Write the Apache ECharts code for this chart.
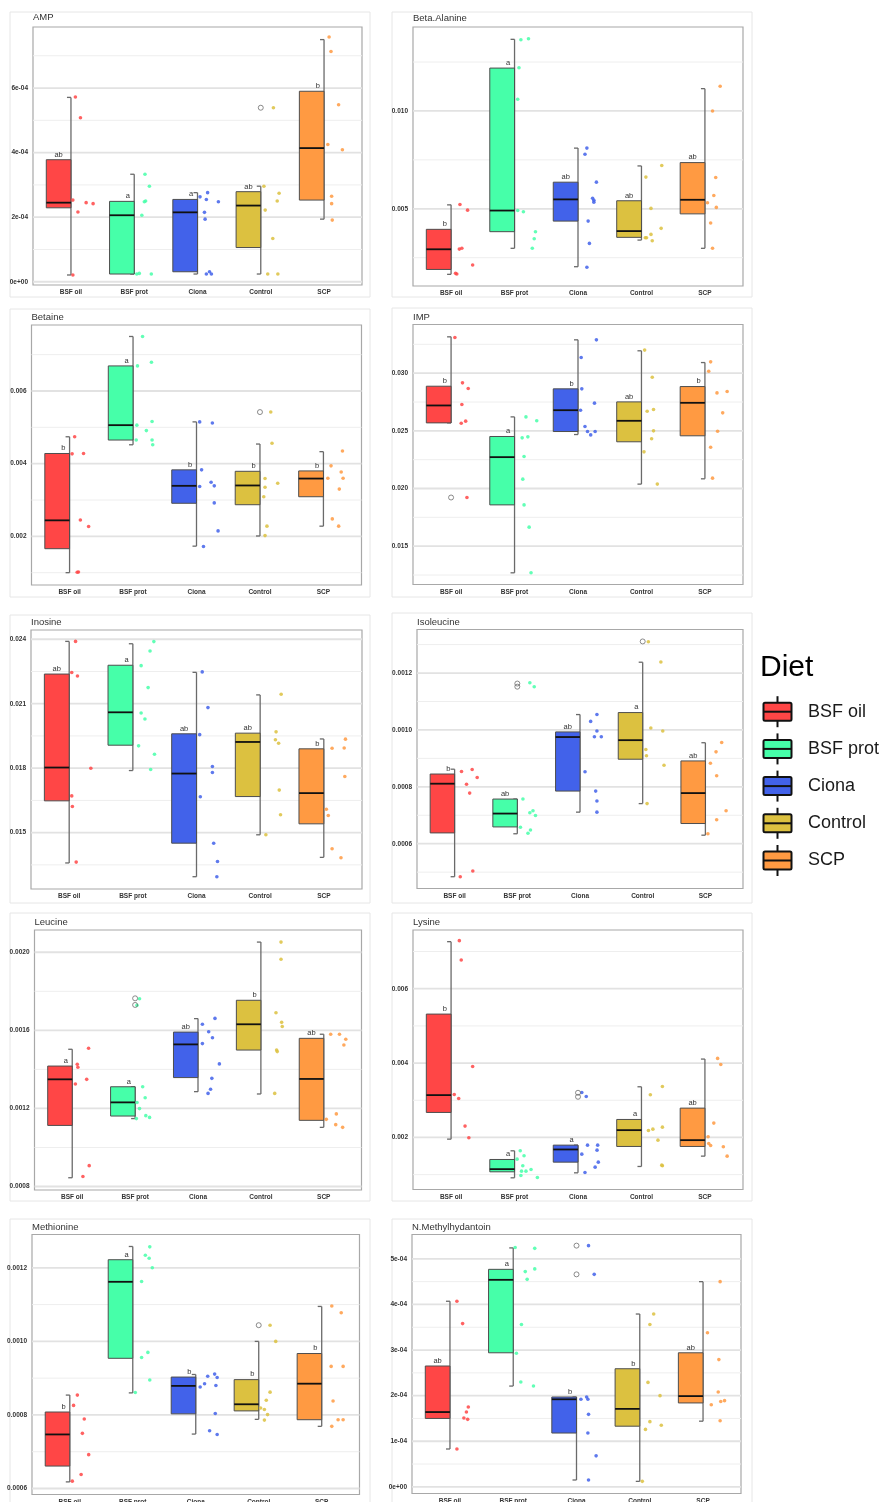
<!DOCTYPE html>
<html>
<head>
<meta charset="utf-8">
<script src="https://cdn.jsdelivr.net/npm/echarts@6/dist/echarts.min.js"></script>
<style>
  html, body { margin: 0; padding: 0; background: #fff; }
  #chart { width: 886px; height: 1502px; }
</style>
</head>
<body>
<div id="chart"></div>
<script>
// ---- Groups ----
const diets = ['BSF oil', 'BSF prot', 'Ciona', 'Control', 'SCP'];
const dietColors = ['#ff4646', '#46ffa9', '#4262ea', '#dcc140', '#ff9a42'];
const panelTitles = ['AMP', 'Beta.Alanine', 'Betaine', 'IMP', 'Inosine',
  'Isoleucine', 'Leucine', 'Lysine', 'Methionine', 'N.Methylhydantoin'];

// Box statistics per diet: [lower whisker, Q1, median, Q3, upper whisker]
// Raw observations per diet, their horizontal jitter (in category units), outliers and group letters.

// AMP
const ampStats = [
  [0.21e-4, 2.29e-4, 2.45e-4, 3.78e-4, 5.71e-4],
  [0.24e-4, 0.24e-4, 2.06e-4, 2.49e-4, 3.33e-4],
  [0.24e-4, 0.31e-4, 2.15e-4, 2.55e-4, 2.76e-4],
  [0.24e-4, 1.06e-4, 2.36e-4, 2.79e-4, 2.96e-4],
  [1.94e-4, 2.53e-4, 4.14e-4, 5.90e-4, 7.50e-4]];
const ampPoints = [
  [5.72e-4, 5.08e-4, 2.53e-4, 2.45e-4, 2.42e-4, 2.16e-4, 0.21e-4],
  [3.33e-4, 2.96e-4, 2.50e-4, 2.48e-4, 2.06e-4, 0.24e-4, 0.26e-4, 0.24e-4],
  [2.63e-4, 2.76e-4, 2.55e-4, 2.48e-4, 2.15e-4, 1.94e-4, 0.24e-4, 0.31e-4, 0.24e-4],
  [5.39e-4, 2.96e-4, 2.74e-4, 2.50e-4, 2.22e-4, 1.34e-4, 0.24e-4, 0.24e-4],
  [7.58e-4, 7.13e-4, 5.48e-4, 4.25e-4, 4.09e-4, 2.65e-4, 2.42e-4, 1.91e-4]];
const ampJitter = [
  [.07, .15, .03, .24, .35, .11, .03],
  [.17, .24, .18, .16, .12, .04, .08, .27],
  [.04, .16, .14, .33, .11, .12, .14, .19, .22],
  [.20, .05, .29, .26, .07, .19, .11, .27],
  [.08, .11, .23, .06, .29, .12, .12, .13]];
const ampOutliers = [[], [], [], [5.39e-4], []];
const ampLetters = ['ab', 'a', 'a', 'ab', 'b'];
const ampTicks = [0, 2e-4, 4e-4, 6e-4];
const ampTickLabels = ['0e+00', '2e-04', '4e-04', '6e-04'];
const ampMinor = [1e-4, 3e-4, 5e-4, 7e-4];
const ampRange = [-0.10e-4, 7.89e-4];

// Beta.Alanine
const betaStats = [
  [0.00165, 0.00190, 0.00293, 0.00395, 0.00520],
  [0.00298, 0.00383, 0.00491, 0.01219, 0.01366],
  [0.00204, 0.00437, 0.00548, 0.00636, 0.00810],
  [0.00340, 0.00354, 0.00386, 0.00541, 0.00719],
  [0.00298, 0.00474, 0.00546, 0.00736, 0.01114]];
const betaPoints = [
  [0.00522, 0.00493, 0.00294, 0.00298, 0.00213, 0.00170, 0.00167],
  [0.01364, 0.01369, 0.01221, 0.01060, 0.00491, 0.00485, 0.00383, 0.00347, 0.00298],
  [0.00810, 0.00779, 0.00636, 0.00554, 0.00544, 0.00534, 0.00437, 0.00323, 0.00201],
  [0.00721, 0.00662, 0.00502, 0.00400, 0.00369, 0.00352, 0.00352, 0.00337],
  [0.01126, 0.01000, 0.00660, 0.00568, 0.00531, 0.00507, 0.00427, 0.00298]];
const betaJitter = [
  [.14, .26, .13, .17, .34, .07, .09],
  [.10, .22, .07, .05, .05, .14, .33, .31, .28],
  [.14, .11, .29, .23, .25, .25, .16, .18, .14],
  [.32, .07, .15, .31, .15, .06, .08, .17],
  [.24, .12, .17, .14, .04, .18, .09, .12]];
const betaOutliers = [[], [], [], [], []];
const betaLetters = ['b', 'a', 'ab', 'ab', 'ab'];
const betaTicks = [0.005, 0.010];
const betaTickLabels = ['0.005', '0.010'];
const betaMinor = [0.0025, 0.0075, 0.0125];
const betaRange = [0.001054, 0.01429];

// Betaine
const betaineStats = [
  [0.00100, 0.00166, 0.00244, 0.00428, 0.00474],
  [0.00452, 0.00465, 0.00506, 0.00669, 0.00750],
  [0.00173, 0.00291, 0.00339, 0.00383, 0.00515],
  [0.00201, 0.00287, 0.00340, 0.00379, 0.00454],
  [0.00228, 0.00309, 0.00359, 0.00380, 0.00433]];
const betainePoints = [
  [0.00474, 0.00427, 0.00428, 0.00245, 0.00227, 0.00101, 0.00102],
  [0.00750, 0.00679, 0.00669, 0.00516, 0.00506, 0.00491, 0.00465, 0.00465, 0.00452],
  [0.00515, 0.00512, 0.00383, 0.00349, 0.00339, 0.00337, 0.00292, 0.00215, 0.00172],
  [0.00542, 0.00456, 0.00359, 0.00346, 0.00335, 0.00309, 0.00228, 0.00202],
  [0.00435, 0.00394, 0.00377, 0.00360, 0.00360, 0.00330, 0.00248, 0.00228]];
const betaineJitter = [
  [.08, .04, .22, .17, .30, .12, .14],
  [.15, .29, .07, .30, .06, .21, .05, .30, .31],
  [.05, .25, .08, .23, .28, .05, .28, .34, .11],
  [.17, .19, .08, .28, .08, .06, .11, .08],
  [.30, .12, .28, .07, .31, .25, .14, .24]];
const betaineOutliers = [[], [], [], [0.00542], []];
const betaineLetters = ['b', 'a', 'b', 'b', 'b'];
const betaineTicks = [0.002, 0.004, 0.006];
const betaineTickLabels = ['0.002', '0.004', '0.006'];
const betaineMinor = [0.001, 0.003, 0.005, 0.007];
const betaineRange = [0.000661, 0.007816];

// IMP
const impStats = [
  [0.02569, 0.02569, 0.02720, 0.02887, 0.03315],
  [0.01269, 0.01858, 0.02272, 0.02451, 0.02621],
  [0.02468, 0.02494, 0.02679, 0.02864, 0.03289],
  [0.02038, 0.02405, 0.02587, 0.02751, 0.03194],
  [0.02084, 0.02457, 0.02743, 0.02884, 0.03092]];
const impPoints = [
  [0.03309, 0.02916, 0.02867, 0.02728, 0.02584, 0.02566, 0.01922],
  [0.02621, 0.02587, 0.02439, 0.02448, 0.02277, 0.02081, 0.01858, 0.01665, 0.01269],
  [0.03289, 0.03136, 0.02864, 0.02740, 0.02679, 0.02538, 0.02494, 0.02465, 0.02494],
  [0.03200, 0.02965, 0.02670, 0.02685, 0.02500, 0.02431, 0.02318, 0.02038],
  [0.03098, 0.03017, 0.02829, 0.02841, 0.02656, 0.02497, 0.02358, 0.02090]];
const impJitter = [
  [.06, .18, .27, .17, .23, .16, .25],
  [.18, .35, .12, .21, .15, .13, .15, .23, .26],
  [.29, .05, .06, .26, .04, .11, .15, .20, .27],
  [.05, .17, .09, .19, .19, .16, .04, .25],
  [.09, .06, .19, .35, .28, .20, .09, .12]];
const impOutliers = [[0.01922], [], [], [], []];
const impLetters = ['b', 'a', 'b', 'ab', 'b'];
const impTicks = [0.015, 0.020, 0.025, 0.030];
const impTickLabels = ['0.015', '0.020', '0.025', '0.030'];
const impMinor = [0.0125, 0.0175, 0.0225, 0.0275, 0.0325];
const impRange = [0.011677, 0.03422];

// Inosine
const inoStats = [
  [0.01359, 0.01648, 0.01803, 0.02238, 0.02390],
  [0.01789, 0.01907, 0.02060, 0.02279, 0.02379],
  [0.01295, 0.01451, 0.01775, 0.01960, 0.02246],
  [0.01490, 0.01668, 0.01922, 0.01963, 0.02141],
  [0.01385, 0.01541, 0.01684, 0.01890, 0.01936]];
const inoPoints = [
  [0.02390, 0.02245, 0.02229, 0.01800, 0.01671, 0.01622, 0.01363],
  [0.02389, 0.02345, 0.02277, 0.02175, 0.02057, 0.02029, 0.01904, 0.01865, 0.01794],
  [0.02248, 0.02082, 0.01956, 0.01808, 0.01780, 0.01667, 0.01451, 0.01366, 0.01295],
  [0.02144, 0.01969, 0.01932, 0.01916, 0.01698, 0.01583, 0.01490],
  [0.01935, 0.01893, 0.01894, 0.01761, 0.01609, 0.01580, 0.01425, 0.01383]];
const inoJitter = [
  [.10, .04, .13, .34, .04, .05, .11],
  [.33, .27, .13, .24, .13, .19, .09, .34, .28],
  [.09, .18, .05, .25, .25, .06, .27, .33, .32],
  [.33, .25, .24, .29, .30, .32, .09],
  [.34, .13, .32, .33, .04, .07, .13, .27]];
const inoOutliers = [[], [], [], [], []];
const inoLetters = ['ab', 'a', 'ab', 'ab', 'b'];
const inoTicks = [0.015, 0.018, 0.021, 0.024];
const inoTickLabels = ['0.015', '0.018', '0.021', '0.024'];
const inoMinor = [0.0135, 0.0165, 0.0195, 0.0225];
const inoRange = [0.012378, 0.02443];

// Isoleucine
const ileStats = [
  [0.000484, 0.000638, 0.000811, 0.000845, 0.000862],
  [0.000635, 0.000659, 0.000706, 0.000757, 0.000757],
  [0.000711, 0.000785, 0.000975, 0.000993, 0.001054],
  [0.000741, 0.000897, 0.000964, 0.001061, 0.001238],
  [0.000630, 0.000671, 0.000778, 0.000891, 0.000955]];
const ilePoints = [
  [0.000854, 0.000861, 0.000833, 0.000809, 0.000778, 0.000504, 0.000484],
  [0.001166, 0.001152, 0.000757, 0.000716, 0.000709, 0.000699, 0.000658, 0.000648, 0.000637],
  [0.001054, 0.001030, 0.000996, 0.000976, 0.000976, 0.000853, 0.000785, 0.000750, 0.000711],
  [0.001310, 0.001239, 0.001007, 0.000996, 0.000931, 0.000909, 0.000876, 0.000741],
  [0.000956, 0.000923, 0.000883, 0.000839, 0.000716, 0.000684, 0.000635]];
const ileJitter = [
  [.11, .28, .36, .19, .24, .29, .09],
  [.20, .27, .09, .25, .20, .29, .05, .21, .17],
  [.27, .17, .27, .23, .34, .08, .25, .27, .27],
  [.09, .29, .13, .32, .05, .06, .34, .07],
  [.26, .17, .08, .18, .33, .18, .04]];
const ileOutliers = [[], [0.001163, 0.001152], [], [0.001311], []];
const ileLetters = ['b', 'ab', 'ab', 'a', 'ab'];
const ileTicks = [0.0006, 0.0008, 0.0010, 0.0012];
const ileTickLabels = ['0.0006', '0.0008', '0.0010', '0.0012'];
const ileMinor = [0.0005, 0.0007, 0.0009, 0.0011, 0.0013];
const ileRange = [0.0004426, 0.001353];

// Leucine
const leuStats = [
  [0.000845, 0.001113, 0.001349, 0.001417, 0.001503],
  [0.001148, 0.001161, 0.001231, 0.001311, 0.001311],
  [0.001286, 0.001358, 0.001528, 0.001591, 0.001660],
  [0.001274, 0.001499, 0.001631, 0.001754, 0.002052],
  [0.001103, 0.001139, 0.001351, 0.001559, 0.001580]];
const leuPoints = [
  [0.001508, 0.001426, 0.001411, 0.001349, 0.001325, 0.000907, 0.000851],
  [0.001762, 0.001728, 0.001311, 0.001255, 0.001230, 0.001199, 0.001163, 0.001154, 0.001148],
  [0.001661, 0.001631, 0.001593, 0.001562, 0.001532, 0.001428, 0.001354, 0.001298, 0.001277],
  [0.002052, 0.001964, 0.001690, 0.001641, 0.001620, 0.001499, 0.001491, 0.001277],
  [0.001580, 0.001580, 0.001554, 0.001525, 0.001144, 0.001172, 0.001117, 0.001103]];
const leuJitter = [
  [.26, .08, .09, .23, .05, .27, .17],
  [.07, .03, .12, .16, .03, .07, .17, .23, .02],
  [.27, .07, .17, .23, .07, .34, .22, .20, .16],
  [.32, .32, .24, .33, .34, .25, .26, .22],
  [.11, .25, .35, .32, .04, .20, .19, .30]];
const leuOutliers = [[], [0.001764, 0.001730], [], [], []];
const leuLetters = ['a', 'a', 'ab', 'b', 'ab'];
const leuTicks = [0.0008, 0.0012, 0.0016, 0.0020];
const leuTickLabels = ['0.0008', '0.0012', '0.0016', '0.0020'];
const leuMinor = [0.0010, 0.0014, 0.0018];
const leuRange = [0.0007822, 0.0021139];

// Lysine
const lysStats = [
  [0.001955, 0.002673, 0.003139, 0.005318, 0.007265],
  [0.000915, 0.001076, 0.001148, 0.001408, 0.001641],
  [0.001049, 0.001336, 0.001677, 0.001794, 0.001794],
  [0.001220, 0.001758, 0.002197, 0.002484, 0.003363],
  [0.001498, 0.001758, 0.001928, 0.002789, 0.004108]];
const lysPoints = [
  [0.007292, 0.006771, 0.003910, 0.003157, 0.003049, 0.002305, 0.001991],
  [0.001641, 0.001417, 0.001507, 0.001238, 0.001094, 0.001094, 0.001139, 0.000977, 0.000923],
  [0.003211, 0.003103, 0.001794, 0.001794, 0.001659, 0.001551, 0.001336, 0.001202, 0.001058],
  [0.003372, 0.003148, 0.002278, 0.002224, 0.002188, 0.001928, 0.001256, 0.001238],
  [0.004126, 0.003964, 0.002386, 0.002018, 0.001839, 0.001785, 0.001749, 0.001498]];
const lysJitter = [
  [.13, .16, .34, .05, .12, .22, .28],
  [.09, .04, .15, .13, .11, .18, .26, .10, .36],
  [.06, .13, .15, .31, .30, .06, .32, .27, .11],
  [.33, .14, .33, .18, .11, .26, .32, .33],
  [.20, .25, .14, .05, .06, .09, .29, .35]];
const lysOutliers = [[], [], [0.003202, 0.003094], [], []];
const lysLetters = ['b', 'a', 'a', 'a', 'ab'];
const lysTicks = [0.002, 0.004, 0.006];
const lysTickLabels = ['0.002', '0.004', '0.006'];
const lysMinor = [0.001, 0.003, 0.005, 0.007];
const lysRange = [0.0006007, 0.007579];

// Methionine
const metStats = [
  [0.000618, 0.000661, 0.000747, 0.000808, 0.000854],
  [0.000860, 0.000954, 0.001162, 0.001222, 0.001258],
  [0.000748, 0.000803, 0.000879, 0.000903, 0.000910],
  [0.000788, 0.000811, 0.000829, 0.000896, 0.001000],
  [0.000769, 0.000787, 0.000885, 0.000967, 0.001095]];
const metPoints = [
  [0.000854, 0.000826, 0.000789, 0.000750, 0.000692, 0.000638, 0.000620],
  [0.001257, 0.001234, 0.001226, 0.001200, 0.001163, 0.000970, 0.000956, 0.000895, 0.000861],
  [0.000911, 0.000905, 0.000902, 0.000885, 0.000876, 0.000880, 0.000804, 0.000757, 0.000747],
  [0.001044, 0.001000, 0.000862, 0.000840, 0.000819, 0.000815, 0.000801, 0.000786],
  [0.001096, 0.001078, 0.000932, 0.000932, 0.000838, 0.000787, 0.000787, 0.000769]];
const metJitter = [
  [.12, .06, .23, .20, .30, .18, .04],
  [.27, .20, .26, .31, .14, .24, .14, .27, .04],
  [.30, .19, .34, .14, .07, .32, .31, .22, .34],
  [.18, .27, .18, .12, .03, .09, .14, .09],
  [.16, .31, .15, .34, .18, .26, .34, .16]];
const metOutliers = [[], [], [], [0.001044], []];
const metLetters = ['b', 'a', 'b', 'b', 'b'];
const metTicks = [0.0006, 0.0008, 0.0010, 0.0012];
const metTickLabels = ['0.0006', '0.0008', '0.0010', '0.0012'];
const metMinor = [0.0007, 0.0009, 0.0011];
const metRange = [0.0005837, 0.0012906];

// N.Methylhydantoin
const nmhStats = [
  [0.83e-4, 1.50e-4, 1.64e-4, 2.65e-4, 4.07e-4],
  [2.21e-4, 2.94e-4, 4.54e-4, 4.77e-4, 5.24e-4],
  [0.15e-4, 1.18e-4, 1.92e-4, 1.97e-4, 1.97e-4],
  [0.12e-4, 1.33e-4, 1.71e-4, 2.59e-4, 3.79e-4],
  [1.44e-4, 1.84e-4, 1.99e-4, 2.94e-4, 4.50e-4]];
const nmhPoints = [
  [4.07e-4, 3.58e-4, 1.75e-4, 1.64e-4, 1.51e-4, 1.48e-4, 0.83e-4],
  [5.25e-4, 5.23e-4, 4.78e-4, 4.72e-4, 4.55e-4, 3.56e-4, 2.93e-4, 2.30e-4, 2.21e-4],
  [5.29e-4, 4.66e-4, 1.97e-4, 1.92e-4, 1.92e-4, 1.59e-4, 1.18e-4, 0.68e-4, 0.15e-4],
  [3.79e-4, 3.56e-4, 2.29e-4, 2.00e-4, 1.43e-4, 1.35e-4, 1.26e-4, 0.12e-4],
  [4.50e-4, 3.38e-4, 2.79e-4, 2.08e-4, 1.87e-4, 1.89e-4, 1.80e-4, 1.45e-4]];
const nmhJitter = [
  [.11, .20, .29, .26, .22, .28, .11],
  [.03, .34, .34, .19, .22, .13, .05, .12, .32],
  [.19, .28, .16, .07, .18, .19, .18, .31, .19],
  [.22, .16, .13, .32, .16, .34, .09, .04],
  [.27, .07, .25, .24, .28, .34, .13, .27]];
const nmhOutliers = [[], [], [5.29e-4, 4.66e-4], [], []];
const nmhLetters = ['ab', 'a', 'b', 'b', 'ab'];
const nmhTicks = [0, 1e-4, 2e-4, 3e-4, 4e-4, 5e-4];
const nmhTickLabels = ['0e+00', '1e-04', '2e-04', '3e-04', '4e-04', '5e-04'];
const nmhMinor = [0.5e-4, 1.5e-4, 2.5e-4, 3.5e-4, 4.5e-4];
const nmhRange = [-0.146e-4, 5.534e-4];

// ---- Layout ----
const FONT = '"Liberation Sans", Arial, Helvetica, sans-serif';
const BOX_W = 0.39;      // box width in category units (box sits left of the category position)
const CAP = 4;           // whisker cap length, px

const panelGrids = [
  { left: 33,  top: 27,     width: 329, height: 258 },
  { left: 413, top: 27,     width: 330, height: 259 },
  { left: 31.5, top: 325,   width: 330, height: 260 },
  { left: 413, top: 324.5,  width: 330, height: 260 },
  { left: 31,  top: 630,    width: 331, height: 259 },
  { left: 417, top: 629.5,  width: 326, height: 259 },
  { left: 34.5, top: 930,   width: 327, height: 260 },
  { left: 413, top: 930,    width: 330, height: 259.5 },
  { left: 32,  top: 1234.5, width: 327.5, height: 260 },
  { left: 412, top: 1234.5, width: 329, height: 259 }
];
const titleY = [17.7, 18, 317.5, 317, 622, 622, 922, 922, 1227, 1227];
const outerFrames = [
  [10, 12, 360, 285], [392, 12, 360, 285],
  [10, 309, 360, 288], [392, 308, 360, 289],
  [10, 615, 360, 288], [392, 613, 360, 290],
  [10, 913, 360, 288], [392, 913, 360, 288],
  [10, 1219, 360, 290], [392, 1219, 360, 290]
];

const panels = [
  { stats: ampStats, points: ampPoints, jitter: ampJitter, outliers: ampOutliers, letters: ampLetters, ticks: ampTicks, tickLabels: ampTickLabels, minor: ampMinor, range: ampRange },
  { stats: betaStats, points: betaPoints, jitter: betaJitter, outliers: betaOutliers, letters: betaLetters, ticks: betaTicks, tickLabels: betaTickLabels, minor: betaMinor, range: betaRange },
  { stats: betaineStats, points: betainePoints, jitter: betaineJitter, outliers: betaineOutliers, letters: betaineLetters, ticks: betaineTicks, tickLabels: betaineTickLabels, minor: betaineMinor, range: betaineRange },
  { stats: impStats, points: impPoints, jitter: impJitter, outliers: impOutliers, letters: impLetters, ticks: impTicks, tickLabels: impTickLabels, minor: impMinor, range: impRange },
  { stats: inoStats, points: inoPoints, jitter: inoJitter, outliers: inoOutliers, letters: inoLetters, ticks: inoTicks, tickLabels: inoTickLabels, minor: inoMinor, range: inoRange },
  { stats: ileStats, points: ilePoints, jitter: ileJitter, outliers: ileOutliers, letters: ileLetters, ticks: ileTicks, tickLabels: ileTickLabels, minor: ileMinor, range: ileRange },
  { stats: leuStats, points: leuPoints, jitter: leuJitter, outliers: leuOutliers, letters: leuLetters, ticks: leuTicks, tickLabels: leuTickLabels, minor: leuMinor, range: leuRange },
  { stats: lysStats, points: lysPoints, jitter: lysJitter, outliers: lysOutliers, letters: lysLetters, ticks: lysTicks, tickLabels: lysTickLabels, minor: lysMinor, range: lysRange },
  { stats: metStats, points: metPoints, jitter: metJitter, outliers: metOutliers, letters: metLetters, ticks: metTicks, tickLabels: metTickLabels, minor: metMinor, range: metRange },
  { stats: nmhStats, points: nmhPoints, jitter: nmhJitter, outliers: nmhOutliers, letters: nmhLetters, ticks: nmhTicks, tickLabels: nmhTickLabels, minor: nmhMinor, range: nmhRange }
];

// ---- Renderers ----
function renderGridLine(params, api) {
  const cs = params.coordSys;
  const y = api.coord([1, api.value(1)])[1];
  const major = api.value(2) === 1;
  return {
    type: 'line',
    shape: { x1: cs.x, y1: y, x2: cs.x + cs.width, y2: y },
    style: { stroke: major ? '#e2e2e2' : '#eeeeee', lineWidth: major ? 1.8 : 1 },
    silent: true
  };
}

function makeBoxRenderer(letters) {
  return function (params, api) {
    const i = params.dataIndex;
    const x = api.value(0);
    const low = api.coord([x, api.value(1)]);
    const q1 = api.coord([x, api.value(2)]);
    const med = api.coord([x, api.value(3)]);
    const q3 = api.coord([x, api.value(4)]);
    const high = api.coord([x, api.value(5)]);
    const unit = api.size([1, 0])[0];
    const xr = low[0];
    const xl = xr - BOX_W * unit;
    const letter = letters[i];
    const lx = xr - (letter.length > 1 ? BOX_W / 2 : 0.1) * unit;
    const whisker = { stroke: '#6a6a6a', lineWidth: 1.3 };
    return {
      type: 'group',
      children: [
        { type: 'line', shape: { x1: xr, y1: low[1], x2: xr, y2: high[1] }, style: whisker },
        { type: 'line', shape: { x1: xr - CAP, y1: low[1], x2: xr, y2: low[1] }, style: whisker },
        { type: 'line', shape: { x1: xr - CAP, y1: high[1], x2: xr, y2: high[1] }, style: whisker },
        { type: 'rect', shape: { x: xl, y: q3[1], width: xr - xl, height: q1[1] - q3[1] },
          style: { fill: dietColors[i], stroke: '#4e4e4e', lineWidth: 1 } },
        { type: 'line', shape: { x1: xl, y1: med[1], x2: xr, y2: med[1] },
          style: { stroke: '#111', lineWidth: 1.8 } },
        { type: 'text', style: { text: letter, x: lx, y: q3[1] - 1.2, fill: '#333',
          fontSize: 7.5, fontFamily: FONT, align: 'center', verticalAlign: 'bottom' } }
      ]
    };
  };
}

// ---- Option ----
const grids = [], xAxes = [], yAxes = [], series = [], graphics = [];

panels.forEach((p, k) => {
  grids.push(Object.assign({}, panelGrids[k], {
    show: true, backgroundColor: '#fff', borderColor: '#a8a8a8', borderWidth: 1.2,
    containLabel: false, outerBoundsMode: 'none'
  }));
  xAxes.push({
    gridIndex: k, type: 'value', min: 0.4, max: 5.6,
    axisLine: { show: false }, axisTick: { show: false }, splitLine: { show: false },
    axisLabel: {
      customValues: [1, 2, 3, 4, 5],
      formatter: v => diets[Math.round(v) - 1] || '',
      fontSize: 6.5, fontWeight: 'bold', color: '#333', fontFamily: FONT, margin: 4
    }
  });
  yAxes.push({
    gridIndex: k, type: 'value', min: p.range[0], max: p.range[1],
    axisLine: { show: false }, axisTick: { show: false }, splitLine: { show: false },
    axisLabel: {
      customValues: p.ticks,
      formatter: v => {
        let best = 0;
        p.ticks.forEach((t, j) => { if (Math.abs(t - v) < Math.abs(p.ticks[best] - v)) best = j; });
        return p.tickLabels[best];
      },
      fontSize: 6.5, fontWeight: 'bold', color: '#333', fontFamily: FONT, margin: 5
    }
  });

  series.push({
    type: 'custom', xAxisIndex: k, yAxisIndex: k, z: 1, silent: true,
    renderItem: renderGridLine,
    data: p.minor.map(v => [1, v, 0]).concat(p.ticks.map(v => [1, v, 1]))
  });
  series.push({
    type: 'custom', xAxisIndex: k, yAxisIndex: k, z: 2, silent: true,
    renderItem: makeBoxRenderer(p.letters),
    data: p.stats.map((s, i) => [i + 1].concat(s))
  });
  const pts = [];
  p.points.forEach((arr, i) => arr.forEach((v, j) => {
    pts.push({ value: [i + 1 + p.jitter[i][j], v], itemStyle: { color: dietColors[i] } });
  }));
  series.push({
    type: 'scatter', xAxisIndex: k, yAxisIndex: k, z: 3, silent: true,
    symbol: 'circle', symbolSize: 3.6, itemStyle: { opacity: 0.85 },
    data: pts
  });
  const outs = [];
  p.outliers.forEach((arr, i) => arr.forEach(v => outs.push([i + 1, v])));
  series.push({
    type: 'scatter', xAxisIndex: k, yAxisIndex: k, z: 4, silent: true,
    symbol: 'circle', symbolSize: 5,
    itemStyle: { color: 'rgba(255,255,255,0)', borderColor: '#6e6e6e', borderWidth: 1 },
    data: outs
  });

  // panel title
  graphics.push({
    type: 'text', x: panelGrids[k].left, y: titleY[k], z: 10,
    style: { text: panelTitles[k], fill: '#333', fontSize: 9.5, fontFamily: FONT, verticalAlign: 'middle' }
  });
});

// faint outer frame around each panel
outerFrames.forEach(f => {
  graphics.push({
    type: 'rect', z: -1, silent: true,
    shape: { x: f[0], y: f[1], width: f[2], height: f[3] },
    style: { fill: 'none', stroke: '#e6e6e6', lineWidth: 1 }
  });
});

// Legend: "Diet" with boxplot keys
graphics.push({
  type: 'text', x: 760, y: 668, z: 10,
  style: { text: 'Diet', fill: '#000', fontSize: 30, fontFamily: FONT, verticalAlign: 'middle' }
});
diets.forEach((d, i) => {
  const cy = 711.7 + i * 37.2;
  const x0 = 763.5, w = 28, h = 18, cx = x0 + w / 2;
  graphics.push({
    type: 'group', z: 10,
    children: [
      { type: 'line', shape: { x1: cx, y1: cy - h / 2 - 6.5, x2: cx, y2: cy + h / 2 + 6.5 },
        style: { stroke: '#111', lineWidth: 2 } },
      { type: 'rect', shape: { x: x0, y: cy - h / 2, width: w, height: h, r: 1.5 },
        style: { fill: dietColors[i], stroke: '#111', lineWidth: 2 } },
      { type: 'line', shape: { x1: x0, y1: cy, x2: x0 + w, y2: cy },
        style: { stroke: '#111', lineWidth: 2 } },
      { type: 'text', x: 808, y: cy,
        style: { text: d, fill: '#1a1a1a', fontSize: 18, fontFamily: FONT, verticalAlign: 'middle' } }
    ]
  });
});

const chart = echarts.init(document.getElementById('chart'), null, { renderer: 'canvas' });
chart.setOption({
  backgroundColor: '#fff',
  animation: false,
  grid: grids,
  xAxis: xAxes,
  yAxis: yAxes,
  series: series,
  graphic: graphics
});
</script>
</body>
</html>
